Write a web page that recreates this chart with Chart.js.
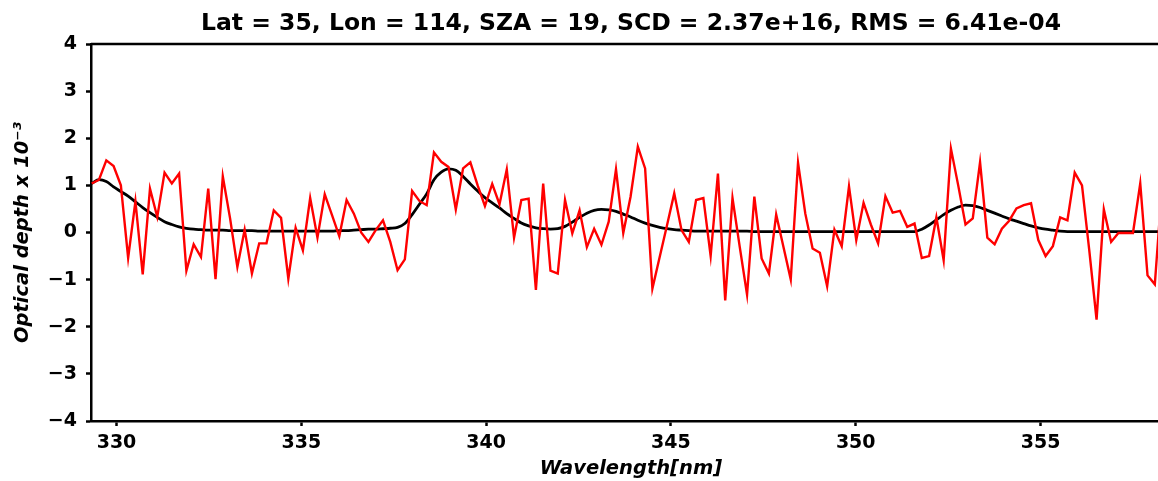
<!DOCTYPE html>
<html>
<head>
<meta charset="utf-8">
<script src="https://cdn.jsdelivr.net/npm/chart.js@4/dist/chart.umd.min.js"></script>
<style>
  html, body { margin: 0; padding: 0; background: #fff; overflow: hidden; }
  #wrap { width: 1171px; height: 481px; }
</style>
</head>
<body>
<div id="wrap"><canvas id="odChart" width="1171" height="481"></canvas></div>
<script>
// wavelength grid (nm)
var WL_START = 329.33;
var WL_STEP = 0.197;

// measured optical depth (x 1e-3), red
var measured = [
  1.04, 1.12, 1.53, 1.41, 1.0, -0.54, 0.66, -0.89, 0.93, 0.33,
  1.27, 1.04, 1.25, -0.81, -0.25, -0.52, 0.93, -0.99, 1.19, 0.30,
  -0.73, 0.06, -0.87, -0.23, -0.23, 0.47, 0.31, -0.98, 0.10, -0.38,
  0.73, -0.11, 0.81, 0.37, -0.08, 0.69, 0.40, 0.0, -0.20, 0.05,
  0.26, -0.20, -0.80, -0.57, 0.88, 0.67, 0.58, 1.70, 1.50, 1.39,
  0.49, 1.36, 1.49, 1.0, 0.56, 1.03, 0.60, 1.34, -0.11, 0.69,
  0.72, -1.22, 1.04, -0.81, -0.87, 0.69, -0.02, 0.47, -0.31, 0.08,
  -0.26, 0.23, 1.34, -0.01, 0.76, 1.82, 1.36, -1.19, -0.52, 0.15,
  0.83, 0.05, -0.20, 0.69, 0.73, -0.50, 1.25, -1.44, 0.73, -0.31,
  -1.32, 0.76, -0.55, -0.87, 0.38, -0.31, -1.0, 1.48, 0.40, -0.34,
  -0.43, -1.14, 0.06, -0.29, 0.98, -0.16, 0.63, 0.17, -0.23, 0.77,
  0.42, 0.46, 0.12, 0.19, -0.54, -0.50, 0.32, -0.59, 1.78, 1.0,
  0.17, 0.30, 1.49, -0.11, -0.25, 0.08, 0.25, 0.51, 0.58, 0.62,
  -0.16, -0.50, -0.29, 0.32, 0.26, 1.27, 1.0, -0.38, -1.85, 0.49,
  -0.20, -0.01, -0.01, -0.01, 1.04, -0.91, -1.10, 1.0
];

// fitted optical depth (x 1e-3), black
var fitted = [
  1.04, 1.12, 1.08, 0.97, 0.87, 0.77, 0.65, 0.53, 0.42, 0.32,
  0.23, 0.17, 0.12, 0.09, 0.07, 0.06, 0.05, 0.05, 0.05, 0.04,
  0.04, 0.04, 0.04, 0.03, 0.03, 0.03, 0.03, 0.03, 0.03, 0.03,
  0.03, 0.03, 0.03, 0.03, 0.04, 0.04, 0.05, 0.06, 0.07, 0.07,
  0.08, 0.09, 0.11, 0.19, 0.38, 0.60, 0.82, 1.12, 1.28, 1.35,
  1.32, 1.19, 1.03, 0.88, 0.74, 0.63, 0.52, 0.40, 0.30, 0.20,
  0.14, 0.10, 0.08, 0.07, 0.08, 0.13, 0.22, 0.32, 0.41, 0.47,
  0.49, 0.48, 0.45, 0.39, 0.33, 0.26, 0.20, 0.15, 0.11, 0.08,
  0.06, 0.05, 0.04, 0.03, 0.03, 0.03, 0.03, 0.03, 0.03, 0.03,
  0.03, 0.02, 0.02, 0.02, 0.02, 0.02, 0.02, 0.02, 0.02, 0.02,
  0.02, 0.02, 0.02, 0.02, 0.02, 0.02, 0.02, 0.02, 0.02, 0.02,
  0.02, 0.02, 0.02, 0.02, 0.07, 0.16, 0.27, 0.38, 0.47, 0.54,
  0.58, 0.57, 0.53, 0.47, 0.41, 0.35, 0.29, 0.24, 0.19, 0.14,
  0.10, 0.07, 0.05, 0.03, 0.02, 0.02, 0.02, 0.02, 0.02, 0.02,
  0.02, 0.02, 0.02, 0.02, 0.02, 0.02, 0.02, 0.02
];

var titleText = 'Lat = 35, Lon = 114, SZA = 19, SCD = 2.37e+16, RMS = 6.41e-04';
var xTitle = 'Wavelength[nm]';
var yTitle = 'Optical depth x 10\u207B\u00B3';

var wavelengths = measured.map(function(v, i) { return +(WL_START + i * WL_STEP).toFixed(3); });

function toPoints(vals) {
  return vals.map(function(v, i) { return {x: wavelengths[i], y: v}; });
}

Chart.defaults.font.family = 'DejaVu Sans';
Chart.defaults.color = '#000';

// matplotlib style frame (top + right spines)
var framePlugin = {
  id: 'frame',
  afterDatasetsDraw: function(chart) {
    var a = chart.chartArea, ctx = chart.ctx;
    ctx.save();
    ctx.strokeStyle = '#000';
    ctx.lineWidth = 2.5;
    ctx.beginPath();
    ctx.moveTo(a.left, a.top);
    ctx.lineTo(a.right, a.top);
    ctx.lineTo(a.right, a.bottom);
    ctx.stroke();
    ctx.restore();
  }
};

var ctx = document.getElementById('odChart').getContext('2d');
var chart = new Chart(ctx, {
  type: 'line',
  data: {
    datasets: [
      {
        label: 'measured',
        data: toPoints(measured),
        borderColor: '#ff0000',
        borderWidth: 2.4,
        pointRadius: 0,
        tension: 0,
        order: 0
      },
      {
        label: 'fit',
        data: toPoints(fitted),
        borderColor: '#000000',
        borderWidth: 2.8,
        pointRadius: 0,
        cubicInterpolationMode: 'monotone',
        order: 1
      }
    ]
  },
  plugins: [framePlugin],
  options: {
    responsive: false,
    animation: false,
    devicePixelRatio: 1,
    layout: { padding: 0 },
    plugins: {
      legend: { display: false },
      tooltip: { enabled: false },
      title: {
        display: true,
        text: titleText,
        fullSize: false,
        font: { size: 23.5, weight: 'bold' },
        padding: { top: 9.9, bottom: 5.9 },
        color: '#000'
      }
    },
    scales: {
      x: {
        type: 'linear',
        min: 329.31,
        max: 358.53,
        afterFit: function(s) { s.height = 60; },
        ticks: {
          stepSize: 5,
          includeBounds: false,
          padding: 6,
          font: { size: 19, weight: 'bold' },
          callback: function(v) { return v; }
        },
        grid: { drawOnChartArea: false, drawTicks: true, tickLength: 5, tickWidth: 2.5, color: '#000' },
        border: { display: true, color: '#000', width: 2.5 },
        title: {
          display: true,
          text: xTitle,
          font: { size: 19.5, weight: 'bold', style: 'italic' },
          padding: { top: 0, bottom: 0 }
        }
      },
      y: {
        min: -4,
        max: 4,
        afterFit: function(s) { s.width = 91; },
        ticks: {
          stepSize: 1,
          padding: 9,
          font: { size: 19, weight: 'bold' },
          callback: function(v) { return String(v).replace('-', '\u2212'); }
        },
        grid: { drawOnChartArea: false, drawTicks: true, tickLength: 5, tickWidth: 2.5, color: '#000' },
        border: { display: true, color: '#000', width: 2.5 },
        title: {
          display: true,
          text: yTitle,
          font: { size: 19.5, weight: 'bold', style: 'italic' },
          padding: { top: 11.7, bottom: 0 }
        }
      }
    }
  }
});
</script>
</body>
</html>
